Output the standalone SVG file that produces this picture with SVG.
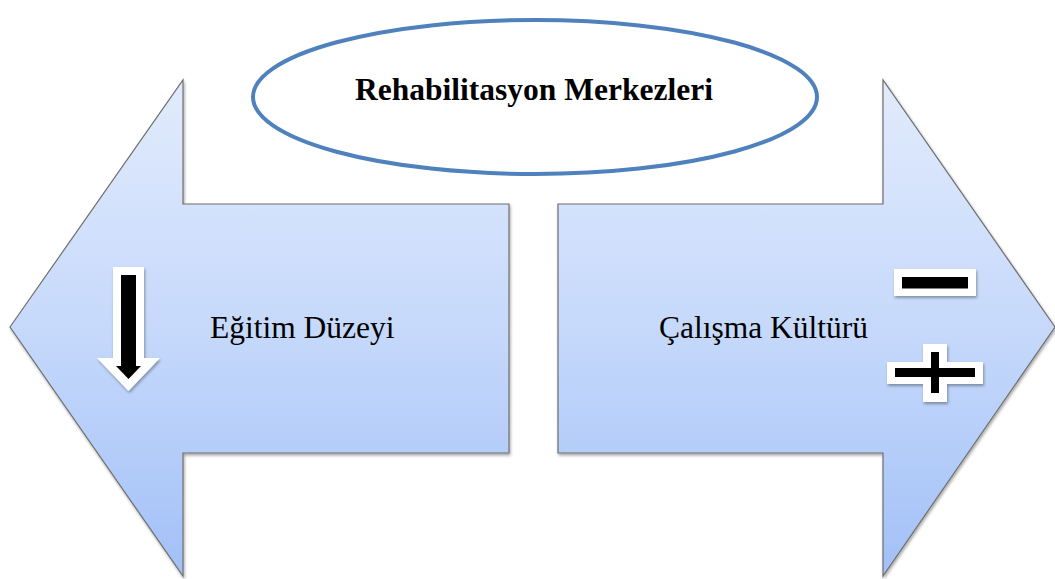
<svg xmlns="http://www.w3.org/2000/svg" width="1055" height="579" viewBox="0 0 1055 579">
  <style>
    .block { stroke: #6f6f6f; stroke-width: 1.2; }
    .title { font-family: "Liberation Serif", "Times New Roman", serif; font-weight: bold; font-size: 31.5px; fill: #000; }
    .label { font-family: "Liberation Serif", "Times New Roman", serif; font-size: 31.5px; fill: #000; }
    .halo { fill: #ffffff; }
    .mark { fill: #000000; }
  </style>
  <defs>
    <linearGradient id="blueFill" x1="0" y1="0" x2="0" y2="1">
      <stop offset="0" stop-color="#e2ebfc"/>
      <stop offset="0.5" stop-color="#c6d9fb"/>
      <stop offset="1" stop-color="#a2c0f7"/>
    </linearGradient>
    <filter id="softShadow" x="-10%" y="-10%" width="130%" height="130%">
      <feGaussianBlur in="SourceAlpha" stdDeviation="1.5"/>
      <feOffset dx="1" dy="2" result="off"/>
      <feComponentTransfer><feFuncA type="linear" slope="0.35"/></feComponentTransfer>
      <feMerge><feMergeNode/><feMergeNode in="SourceGraphic"/></feMerge>
    </filter>
  </defs>

  <rect width="1055" height="579" fill="#ffffff"/>

  <!-- left block arrow: Eğitim Düzeyi -->
  <g id="egitim-duzeyi">
    <polygon class="block" fill="url(#blueFill)" filter="url(#softShadow)"
             points="10,327 183,80 183,204 509,204 509,453 183,453 183,576"/>
    <g id="down-arrow" filter="url(#softShadow)">
      <polygon class="halo" points="113,267 144,267 144,358 160,358 128.5,391 97,358 113,358"/>
      <polygon class="mark" points="121,275 136,275 136,366 141,366 128.5,379 116,366 121,366"/>
    </g>
    <text class="label" x="210" y="338">Eğitim Düzeyi</text>
  </g>

  <!-- right block arrow: Çalışma Kültürü -->
  <g id="calisma-kulturu">
    <polygon class="block" fill="url(#blueFill)" filter="url(#softShadow)"
             points="1055,327 883,80 883,204 558,204 558,453 883,453 883,576"/>
    <g id="minus-sign" filter="url(#softShadow)">
      <rect class="halo" x="894" y="269" width="82" height="27"/>
      <rect class="mark" x="902" y="277" width="66" height="11.5"/>
    </g>
    <g id="plus-sign" filter="url(#softShadow)">
      <rect class="halo" x="887" y="362" width="96" height="22"/>
      <rect class="halo" x="923" y="344" width="24" height="58"/>
      <rect class="mark" x="895" y="368" width="80" height="9"/>
      <rect class="mark" x="931" y="352" width="8" height="41"/>
    </g>
    <text class="label" x="659" y="338">Çalışma Kültürü</text>
  </g>

  <!-- central ellipse -->
  <g id="rehabilitasyon-merkezleri">
    <ellipse cx="535" cy="97" rx="282" ry="77" fill="#ffffff" stroke="#4f81bd" stroke-width="4"/>
    <text class="title" x="534" y="100" text-anchor="middle">Rehabilitasyon Merkezleri</text>
  </g>

  <g id="connectors"/>
</svg>
